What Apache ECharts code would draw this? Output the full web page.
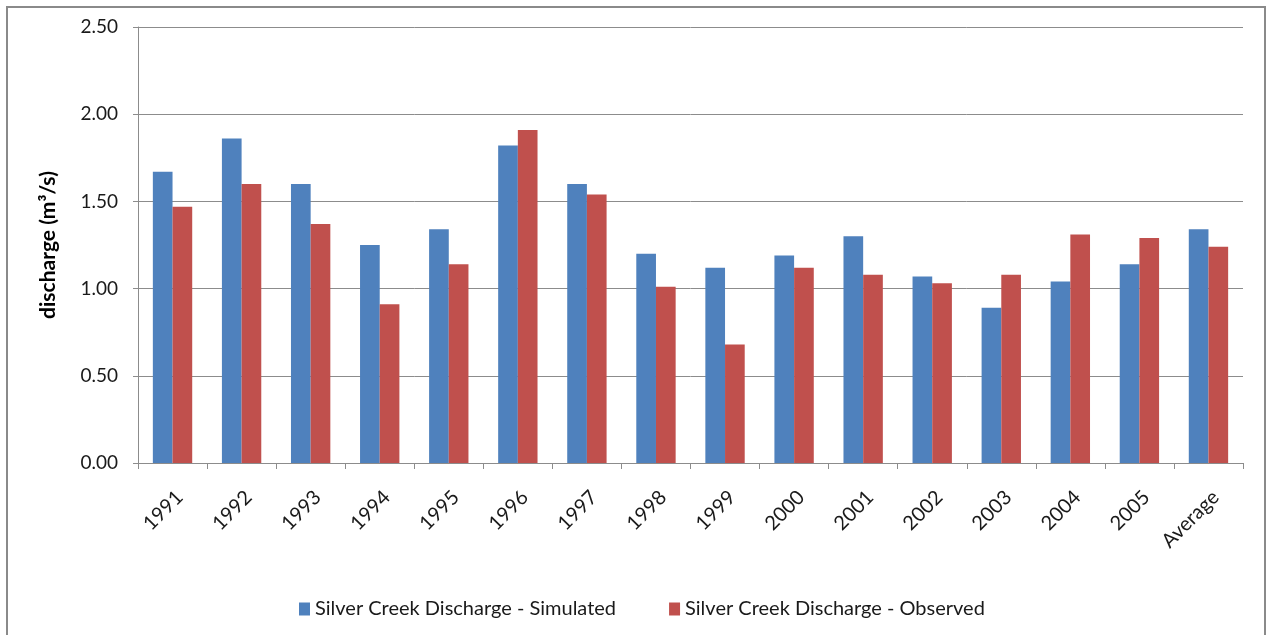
<!DOCTYPE html>
<html>
<head>
<meta charset="utf-8">
<script src="https://cdn.jsdelivr.net/npm/echarts@6/dist/echarts.min.js"></script>
<style>
  html, body { margin: 0; padding: 0; background: #fff; }
  #chart { width: 1267px; height: 635px; }
</style>
</head>
<body>
<div id="chart"></div>
<script>
// Annual mean discharge, Silver Creek (m³/s)
const categories = ['1991', '1992', '1993', '1994', '1995', '1996', '1997', '1998',
                    '1999', '2000', '2001', '2002', '2003', '2004', '2005', 'Average'];
const simulated = [1.67, 1.86, 1.60, 1.25, 1.34, 1.82, 1.60, 1.20,
                   1.12, 1.19, 1.30, 1.07, 0.89, 1.04, 1.14, 1.34];
const observed  = [1.47, 1.60, 1.37, 0.91, 1.14, 1.91, 1.54, 1.01,
                   0.68, 1.12, 1.08, 1.03, 1.08, 1.31, 1.29, 1.24];
const yTicks = { min: 0, max: 2.5, interval: 0.5 };
const seriesNames = ['Silver Creek Discharge - Simulated', 'Silver Creek Discharge - Observed'];

const FONT = 'Lato, "Open Sans", sans-serif';
const AXIS_GRAY = '#8c8c8c';

const chart = echarts.init(document.getElementById('chart'), null, { renderer: 'canvas' });

chart.setOption({
  backgroundColor: '#ffffff',
  animation: false,
  graphic: [{
    type: 'rect',
    shape: { x: 7, y: 7, width: 1258, height: 640 },
    style: { fill: 'none', stroke: '#8a8a8a', lineWidth: 2 },
    silent: true
  }],
  grid: { left: 138, right: 24, top: 27, bottom: 172, containLabel: false },
  legend: {
    data: seriesNames,
    left: 294,
    top: 594,
    itemWidth: 11,
    itemHeight: 13,
    itemGap: 53,
    icon: 'rect',
    textStyle: { fontFamily: FONT, fontSize: 20, color: '#1a1a1a' }
  },
  xAxis: {
    type: 'category',
    data: categories,
    axisLine: { lineStyle: { color: AXIS_GRAY, width: 1 } },
    axisTick: { show: true, alignWithLabel: false, length: 6, lineStyle: { color: AXIS_GRAY } },
    axisLabel: {
      rotate: 45,
      interval: 0,
      margin: 24,
      verticalAlign: 'top',
      fontFamily: FONT,
      fontSize: 20,
      color: '#1a1a1a'
    },
    splitLine: { show: false }
  },
  yAxis: {
    type: 'value',
    min: yTicks.min,
    max: yTicks.max,
    interval: yTicks.interval,
    name: 'discharge (m³/s)',
    nameLocation: 'middle',
    nameGap: 79,
    nameTextStyle: { fontFamily: FONT, fontSize: 21, fontWeight: 'bold', color: '#000' },
    axisLine: { show: true, lineStyle: { color: AXIS_GRAY, width: 1 } },
    axisTick: { show: true, length: 5, lineStyle: { color: AXIS_GRAY } },
    axisLabel: {
      margin: 20,
      fontFamily: FONT,
      fontSize: 19,
      color: '#1a1a1a',
      formatter: v => v.toFixed(2)
    },
    splitLine: { show: true, lineStyle: { color: AXIS_GRAY, width: 1 } }
  },
  series: [
    {
      name: seriesNames[0],
      type: 'bar',
      data: simulated,
      barGap: '0%',
      barCategoryGap: '43%',
      itemStyle: { color: '#4F81BD' }
    },
    {
      name: seriesNames[1],
      type: 'bar',
      data: observed,
      barGap: '0%',
      barCategoryGap: '43%',
      itemStyle: { color: '#C0504D' }
    }
  ]
});
</script>
</body>
</html>
